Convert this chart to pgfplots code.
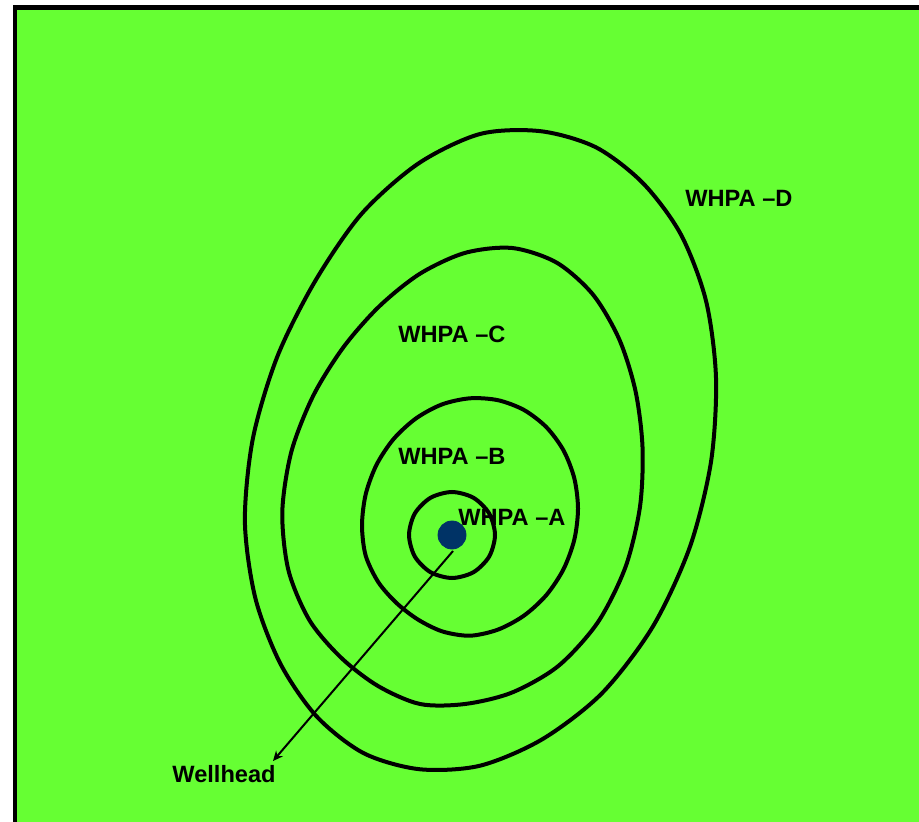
\documentclass[border=0pt]{standalone}
\usepackage{pgfplots}
\pgfplotsset{compat=1.18}
\usetikzlibrary{arrows.meta}
\usepackage{fontspec}
\setmainfont{Liberation Sans}
\definecolor{bggreen}{HTML}{66FF33}
\definecolor{wellblue}{HTML}{003366}
\begin{document}
\begin{tikzpicture}
\begin{axis}[
    width=459.5pt, height=411pt, scale only axis,
    xmin=0, xmax=919, ymin=0, ymax=822,
    y dir=reverse,
    hide axis,
    clip=true,
  ]
  \path (rel axis cs:0,0) rectangle (rel axis cs:1,1);
  % background and frame
  \addplot[draw=none, fill=bggreen] coordinates {(15,822) (15,7.5) (919,7.5) (919,822)} -- cycle;
  \addplot[black, line width=2.3pt] coordinates {(15,822) (15,7.5) (919,7.5)};
  % WHPA-D
  \addplot[black, line width=2pt, smooth cycle] coordinates {
    (716,378) (711,461.8) (689.9,546.9) (652.7,626.8) (601.9,693.3) (542.2,739.3)
    (480,765.7) (419.3,769.2) (363.7,753.2) (316.8,716.6) (280.5,663.9) (255.4,598.3)
    (244.9,521.7) (252.9,438.4) (277.4,356.4) (315.1,281.2) (361.6,213.8) (418.4,163.5)
    (480,134) (540.6,131.2) (596.1,147.4) (643.2,183.4) (680.9,234.5) (706,300.8)};
  % WHPA-C
  \addplot[black, line width=2pt, smooth cycle] coordinates {
    (642.5,447) (640,506.6) (625.5,567) (597.7,622.5) (558.3,666) (512.1,692.5)
    (465,704) (420,704) (378,686) (341.1,657.7) (309.5,620.3) (288.5,570.5)
    (282.3,511.9) (291.4,451.6) (313.2,395.8) (343.3,347.4) (379,306.6) (419.7,273.9)
    (465,252.9) (512.2,248) (556.6,262.6) (592.9,294.5) (619.1,339) (635.4,390.6)};
  % WHPA-B
  \addplot[black, line width=2pt, smooth cycle] coordinates {
    (578,508.7) (574.3,539.7) (563.5,569.2) (546.4,595) (524,615.6) (498,629.6)
    (470,635.7) (442.6,631.5) (418.2,619.7) (396.7,603.2) (378.4,582.3) (365.7,555.7)
    (362,525.3) (365.7,494.3) (376.5,464.8) (393.6,439) (416,418.4) (442,404.4)
    (470,398.3) (498,400.2) (524,410) (546.4,427.2) (563.5,450.4) (574.3,478.3)};
  % WHPA-A
  \addplot[black, line width=2pt, smooth cycle] coordinates {
    (452,492) (473.5,497.8) (489.2,513.5) (495,535) (489.2,556.5) (473.5,572.2)
    (452,578) (430.5,572.2) (414.8,556.5) (409,535) (414.8,513.5) (430.5,497.8)};
  % arrow to label
  \addplot[black, line width=1pt, -{Stealth[length=5pt,width=4.5pt]}] coordinates {(453,551) (273,761)};
  % wellhead
  \addplot[only marks, mark=*, mark size=7pt, wellblue, mark options={draw=wellblue, fill=wellblue}] coordinates {(452,535)};
  \tikzset{lbl/.style={anchor=base west, inner sep=0pt, font=\fontsize{11.8}{14}\selectfont\bfseries}}
  \node[lbl] at (axis cs:685,207) {WHPA –D};
  \node[lbl] at (axis cs:398,343) {WHPA –C};
  \node[lbl] at (axis cs:398,465) {WHPA –B};
  \node[lbl] at (axis cs:458,525) {WHPA –A};
  \node[lbl] at (axis cs:172,782) {Wellhead};
\end{axis}
\end{tikzpicture}
\end{document}
